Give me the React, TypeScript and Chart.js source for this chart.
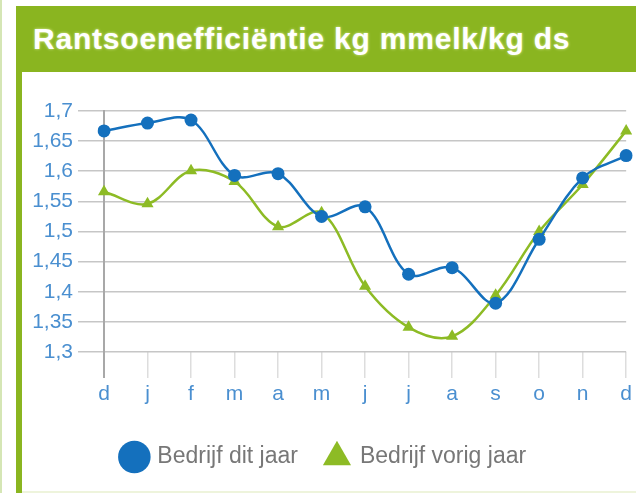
import { useEffect, useRef } from 'react';
import { Chart, registerables } from 'chart.js';

Chart.register(...registerables);

const months = ['d', 'j', 'f', 'm', 'a', 'm', 'j', 'j', 'a', 's', 'o', 'n', 'd'];
const ditJaar = [1.667, 1.68, 1.685, 1.593, 1.596, 1.525, 1.541, 1.429, 1.44, 1.381, 1.487, 1.589, 1.626];
const vorigJaar = [1.566, 1.546, 1.601, 1.583, 1.508, 1.531, 1.409, 1.341, 1.326, 1.394, 1.5, 1.578, 1.667];
const yTickLabels = ['1,3', '1,35', '1,4', '1,45', '1,5', '1,55', '1,6', '1,65', '1,7'];
const seriesNames = ['Bedrijf dit jaar', 'Bedrijf vorig jaar'];
const chartTitle = 'Rantsoenefficiëntie kg mmelk/kg ds';

const BLUE = '#1470bd';
const GREEN = '#8dbb25';
const HEADER = '#8ab520';
const TICK = '#4a8fd0';
const FONT = "'Liberation Sans', Arial, sans-serif";

export default function App() {
  const ref = useRef<HTMLCanvasElement>(null);

  useEffect(() => {
    const canvas = ref.current;
    if (!canvas) return;
    Chart.defaults.font.family = FONT;
    const chart = new Chart(canvas, {
      type: 'line',
      data: {
        labels: months,
        datasets: [
          {
            label: seriesNames[0],
            data: ditJaar,
            borderColor: BLUE,
            backgroundColor: BLUE,
            pointBackgroundColor: BLUE,
            pointBorderColor: BLUE,
            pointStyle: 'circle',
            pointRadius: 6.5,
            pointBorderWidth: 0,
            borderWidth: 2.5,
            tension: 0.35,
          },
          {
            label: seriesNames[1],
            data: vorigJaar,
            borderColor: GREEN,
            backgroundColor: GREEN,
            pointBackgroundColor: GREEN,
            pointBorderColor: GREEN,
            pointStyle: 'triangle',
            pointRadius: 7,
            pointBorderWidth: 0,
            borderWidth: 2.5,
            tension: 0.35,
          },
        ],
      },
      options: {
        animation: false,
        responsive: false,
        layout: { padding: { left: 0, right: 9, top: 39, bottom: 12.5 } },
        scales: {
          x: {
            grid: {
              drawOnChartArea: false,
              drawTicks: true,
              tickLength: 26,
              color: (c: any) => (c.index === 0 ? '#a8a8a8' : '#dddddd'),
              lineWidth: (c: any) => (c.index === 0 ? 2 : 1.5),
            },
            border: { display: false },
            ticks: {
              color: TICK,
              font: { family: FONT, size: 21 },
              padding: 4,
              maxRotation: 0,
              autoSkip: false,
            },
            afterFit: (s: any) => {
              s.height = 66;
            },
          },
          y: {
            min: 1.3,
            max: 1.7,
            ticks: {
              stepSize: 0.05,
              callback: (_v: any, i: number) => yTickLabels[i],
              color: TICK,
              font: { family: FONT, size: 21 },
              padding: 5,
            },
            grid: { color: '#c6c6c6', lineWidth: 1.5, tickLength: 26 },
            border: { color: '#a8a8a8', width: 2 },
            afterFit: (s: any) => {
              s.width = 82;
            },
          },
        },
        plugins: {
          legend: {
            position: 'bottom',
            labels: {
              usePointStyle: true,
              font: { family: FONT, size: 23 },
              color: '#777777',
              padding: 27.5,
            },
          },
          tooltip: { enabled: false },
        },
      },
    });
    return () => chart.destroy();
  }, []);

  return (
    <div
      style={{
        position: 'absolute',
        left: 0,
        top: 0,
        width: 636,
        height: 493,
        background: '#ffffff',
        overflow: 'hidden',
      }}
    >
      <div style={{ position: 'absolute', left: 0, top: 0, width: 2, height: 493, background: '#d5e6b5' }} />
      <div
        style={{
          position: 'absolute',
          left: 16,
          top: 6,
          width: 620,
          height: 66,
          background: HEADER,
        }}
      >
        <div
          style={{
            position: 'absolute',
            left: 17,
            top: 18,
            fontFamily: FONT,
            fontWeight: 'bold',
            fontSize: 30,
            lineHeight: '30px',
            letterSpacing: '0.8px',
            color: '#ffffff',
            whiteSpace: 'nowrap',
            textShadow: '0 0 3px rgba(230,245,170,0.9)',
          }}
        >
          {chartTitle}
        </div>
      </div>
      <div style={{ position: 'absolute', left: 16, top: 72, width: 6, height: 421, background: HEADER }} />
      <div style={{ position: 'absolute', left: 22, top: 491, width: 614, height: 2, background: '#eef4dc' }} />
      <canvas
        ref={ref}
        width={614}
        height={419}
        style={{ position: 'absolute', left: 22, top: 72, width: 614, height: 419, display: 'block' }}
      />
    </div>
  );
}
